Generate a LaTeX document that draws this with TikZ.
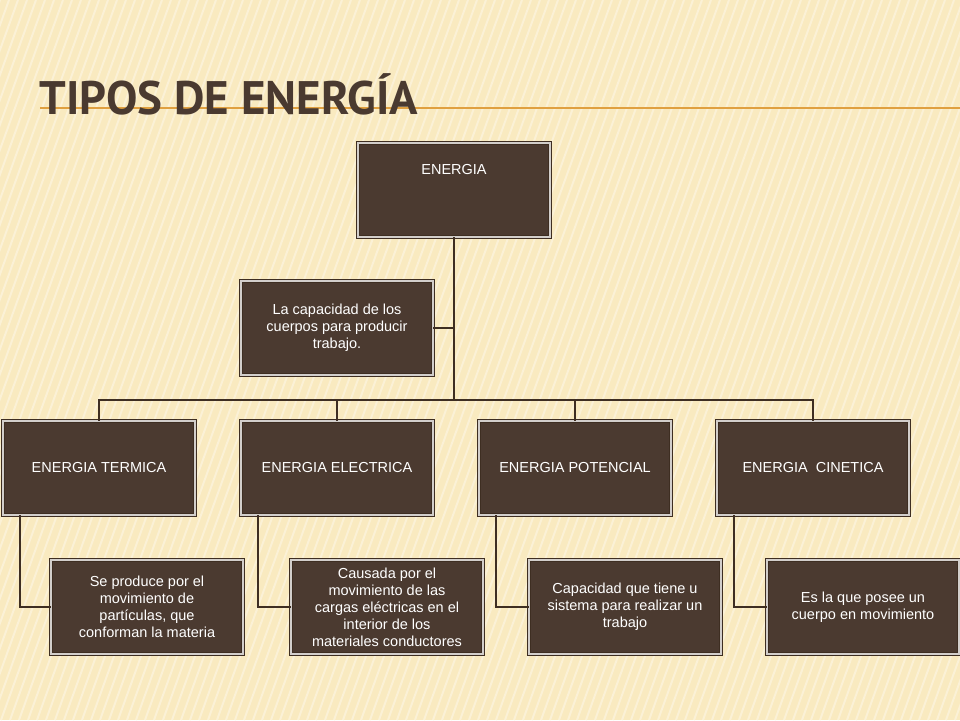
\documentclass[tikz,border=0pt]{standalone}
\usepackage{fontspec}
\setmainfont{Liberation Sans}
\newfontfamily\titlefont{PT Sans}
\usepackage{tikz}

\definecolor{paper}{HTML}{F9EAC0}
\definecolor{boxbrown}{HTML}{4B3A30}
\definecolor{linebrown}{HTML}{3E2E22}
\definecolor{titlebrown}{HTML}{4A3A30}
\definecolor{rule}{HTML}{E0A040}

\begin{document}
\begin{tikzpicture}
          [x=1pt,y=-1pt,font=\fontsize{14.5}{17}\selectfont,
          box/.style={shape=rectangle,draw=linebrown,fill=boxbrown,text=white,
            double=white!75!boxbrown,double distance=2.5pt,line width=0.8pt,
            minimum width=192pt,minimum height=94pt,align=center,inner sep=2pt},
          arc/.style={draw=linebrown,line width=2.2pt}]

            \useasboundingbox (0,0) rectangle (960,720);
            \fill[paper] (0,0) rectangle (960,720);
            \begin{scope}
              \clip (0,0) rectangle (960,720);
              \foreach \i in {0,9,...,1220}
                \draw[white!35!paper,line width=2pt] (\i,0) -- (\i-260,720);
            \end{scope}
            \draw[rule,line width=1.2pt] (40,108) -- (960,108);
            \node (title) [anchor=west,text=titlebrown,font=\titlefont\bfseries\fontsize{47}{50}\selectfont] at (36,94) {TIPOS DE ENERGÍA};

            \node (en) [box] at (454,190) {ENERGIA\\[24pt]};
            \node (def) [box] at (337,328) {La capacidad de los\\cuerpos para producir\\trabajo.};
            \node (ter) [box] at (99,468) {ENERGIA TERMICA};
            \node (ele) [box] at (337,468) {ENERGIA ELECTRICA};
            \node (pot) [box] at (575,468) {ENERGIA POTENCIAL};
            \node (cin) [box] at (813,468) {ENERGIA \ CINETICA};
            \node (dter) [box] at (147,607) {Se produce por el\\movimiento de\\partículas, que\\conforman la materia};
            \node (dele) [box] at (387,607) {Causada por el\\movimiento de las\\cargas eléctricas en el\\interior de los\\materiales conductores};
            \node (dpot) [box] at (625,607) {Capacidad que tiene u\\sistema para realizar un\\trabajo};
            \node (dcin) [box] at (863,607) {Es la que posee un\\cuerpo en movimiento};

            \coordinate (bus) at (454,400);
            \draw [arc] (en.south) -- (bus);
            \draw [arc] (def.east) -- (454,328);
            \foreach \n in {ter,ele,pot,cin}
              \draw [arc] (bus) -| (\n.north);
            \foreach \n/\d in {ter/dter,ele/dele,pot/dpot,cin/dcin}
              \draw [arc] ([xshift=-79pt]\n.south) |- (\d.west);

        \end{tikzpicture}
\end{document}
